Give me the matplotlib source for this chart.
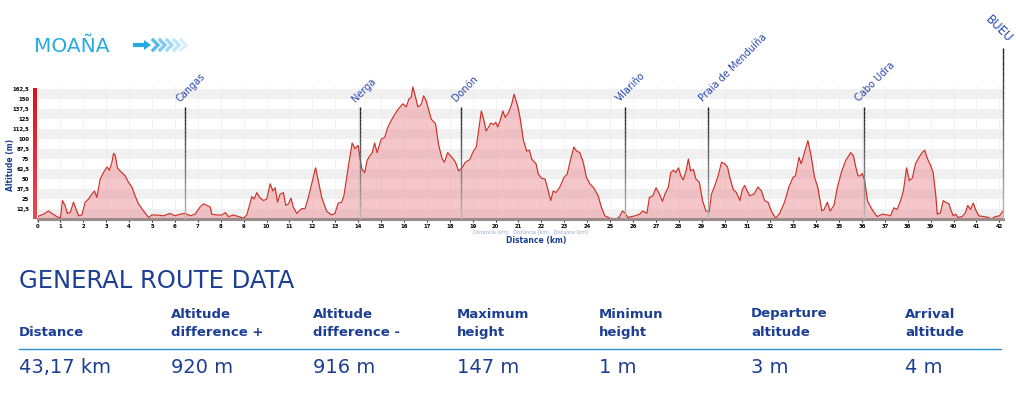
import numpy as np
import matplotlib.pyplot as plt
from matplotlib.collections import LineCollection

# ---------------------------------------------- data ----------------------------------------------
# elevation profile (km, m)
dist_km = [0.0, 0.26, 0.48, 0.63, 0.84, 1.0, 1.09, 1.2, 1.31, 1.43, 1.57, 1.69, 1.79, 1.94, 2.08, 2.23,
           2.37, 2.49, 2.59, 2.74, 2.88, 3.03, 3.14, 3.25, 3.32, 3.39, 3.49, 3.61, 3.83, 3.97, 4.12, 4.26,
           4.41, 4.63, 4.85, 4.99, 5.2, 5.5, 5.79, 6.0, 6.23, 6.45, 6.67, 6.88, 7.1, 7.25, 7.39, 7.54,
           7.61, 7.83, 8.05, 8.2, 8.34, 8.56, 8.78,
           9.0, 9.14, 9.36, 9.46, 9.58, 9.7, 9.87, 10.01, 10.16, 10.28, 10.38, 10.48, 10.59, 10.74, 10.84,
           10.96, 11.07, 11.17, 11.32, 11.54, 11.68, 11.83, 12.04, 12.14, 12.26, 12.41, 12.62, 12.84, 12.99,
           13.13, 13.28, 13.38, 13.57, 13.74, 13.86, 14.0, 14.1, 14.17, 14.29, 14.39, 14.51, 14.62, 14.72,
           14.83, 15.01, 15.16, 15.3, 15.52, 15.74, 15.96, 16.1, 16.22, 16.32, 16.39, 16.51, 16.61, 16.75,
           16.86, 16.97, 17.19,
           17.38, 17.52, 17.67, 17.77, 17.91, 18.1, 18.25, 18.39, 18.54, 18.68, 18.87, 19.04, 19.16, 19.26,
           19.38, 19.48, 19.59, 19.7, 19.8, 19.91, 20.01, 20.1, 20.2, 20.32, 20.42, 20.57, 20.71, 20.81,
           20.96, 21.07, 21.22, 21.36, 21.48, 21.58, 21.77, 21.87, 22.01, 22.16, 22.26, 22.41, 22.52, 22.64,
           22.81, 22.99, 23.13, 23.25, 23.42, 23.54, 23.68, 23.83, 23.97, 24.12, 24.29, 24.48, 24.62, 24.77,
           24.99, 25.28, 25.42, 25.54, 25.64, 25.78,
           26.1, 26.29, 26.43, 26.61, 26.72, 26.87, 27.01, 27.16, 27.29, 27.41, 27.55, 27.65, 27.77, 27.87,
           27.99, 28.09, 28.2, 28.32, 28.42, 28.52, 28.64, 28.75, 28.9, 29.04, 29.19, 29.33, 29.43, 29.58,
           29.72, 29.87, 30.01, 30.13, 30.23, 30.38, 30.52, 30.67, 30.78, 30.88, 30.99, 31.1, 31.28, 31.46,
           31.61, 31.75, 31.9, 32.04, 32.23, 32.41, 32.62, 32.81, 32.99, 33.1, 33.25, 33.35, 33.49, 33.64,
           33.78, 33.93, 34.07, 34.25,
           34.35, 34.49, 34.61, 34.78, 34.93, 35.1, 35.29, 35.51, 35.63, 35.73, 35.83, 35.94, 36.02, 36.12,
           36.24, 36.38, 36.53, 36.67, 36.89, 37.11, 37.25, 37.4, 37.54, 37.69, 37.81, 37.95, 38.07, 38.2,
           38.34, 38.49, 38.63, 38.74, 38.85, 39.0, 39.11, 39.22, 39.29, 39.43, 39.55, 39.65, 39.8, 39.9,
           39.99, 40.09, 40.19, 40.38, 40.52, 40.62, 40.74, 40.86, 40.96, 41.1, 41.32, 41.53, 41.64, 41.83,
           42.01, 42.16]
alt_m = [3, 6, 10, 7, 3, 1, 23, 17, 7, 8, 21, 12, 4, 5, 21, 25,
         31, 35, 27, 50, 58, 65, 61, 71, 82, 80, 64, 60, 54, 46, 40, 29,
         19, 10, 2, 5, 5, 4, 7, 4, 6, 7, 4, 6, 15, 19, 17, 15,
         6, 5, 5, 8, 3, 5, 3,
         1, 5, 28, 25, 33, 27, 23, 25, 44, 35, 39, 21, 31, 33, 17,
         19, 26, 15, 7, 13, 13, 27, 52, 64, 48, 27, 10, 5, 7,
         20, 21, 29, 65, 95, 88, 92, 73, 62, 58, 73, 79, 83, 95,
         83, 100, 102, 115, 127, 137, 144, 140, 150, 152, 165, 152, 140, 143,
         154, 148, 125,
         119, 92, 75, 71, 83, 77, 71, 60, 64, 71, 74, 85, 90, 110,
         135, 125, 110, 115, 120, 118, 121, 115, 123, 135, 127, 133, 144, 156,
         142, 127, 98, 85, 86, 75, 69, 56, 51, 50, 40, 23, 35, 33,
         40, 52, 56, 71, 90, 85, 83, 71, 52, 44, 39, 29, 15, 4,
         1, 0, 3, 10, 8, 2,
         4, 6, 10, 7, 27, 29, 39, 31, 22, 32, 40, 58, 61, 58,
         64, 54, 49, 60, 75, 60, 62, 50, 46, 23, 10, 9, 31, 42,
         54, 71, 69, 65, 52, 37, 33, 23, 37, 42, 35, 29, 31, 40,
         35, 23, 21, 10, 1, 7, 21, 40, 52, 54, 77, 69, 83, 98,
         79, 52, 40, 10,
         12, 21, 10, 17, 40, 58, 73, 83, 79, 65, 54, 54, 57, 48,
         23, 15, 8, 3, 6, 5, 4, 14, 12, 23, 35, 64, 48, 51,
         69, 77, 83, 86, 76, 67, 58, 31, 6, 8, 23, 21, 19, 10,
         4, 6, 2, 3, 8, 17, 12, 20, 12, 4, 3, 2, 0, 3,
         4, 10]

# waypoints along the route
wp_names = ['Cangas', 'Nerga', 'Donón', 'Vilariño', 'Praia de Menduíña', 'Cabo Udra', 'BUEU']
wp_km = [6.44, 14.08, 18.49, 25.65, 29.28, 36.09, 42.16]
wp_top = [140, 140, 140, 140, 140, 140, 214]

y_ticks = [12.5, 25, 37.5, 50, 62.5, 75, 87.5, 100, 112.5, 125, 137.5, 150, 162.5]
x_ticks = list(range(43))

# general route data table
headers = ['Distance', 'Altitude\ndifference +', 'Altitude\ndifference -', 'Maximum\nheight',
           'Minimun\nheight', 'Departure\naltitude', 'Arrival\naltitude']
values = ['43,17 km', '920 m', '916 m', '147 m', '1 m', '3 m', '4 m']

# ---------------------------------------------- figure ----------------------------------------------
W, H = 1016, 395
navy = '#1c3f94'
wp_blue = '#2848b0'

fig = plt.figure(figsize=(W / 100, H / 100), dpi=100)
fig.patch.set_facecolor('white')

# pixel overlay for the decorations and the table
ov = fig.add_axes([0, 0, 1, 1])
ov.set_xlim(0, W)
ov.set_ylim(H, 0)
ov.axis('off')

# profile axes
x0, x1, yb = 37.5, 1003, 219
ax = fig.add_axes([x0 / W, (H - yb) / H, (x1 - x0) / W, 132.8 / H])
ax.set_xlim(0, 42.16)
ax.set_ylim(0, 166)
ax.set_facecolor('none')
for s in ax.spines.values():
    s.set_visible(False)

for k in range(0, 13, 2):
    ax.axhspan(y_ticks[k] - 12.5, y_ticks[k], color='#f0f0f0', lw=0, zorder=0)
ax.vlines(x_ticks, 0, 166, color='#ececec', lw=0.5, zorder=0.5)

ax.fill_between(dist_km, alt_m, color='#ec9096', alpha=0.5, lw=0, zorder=1)
ax.plot(dist_km, alt_m, color='#cf3027', lw=0.85, zorder=3)
ax.axhline(0, color='#9a8a8a', lw=2.2, zorder=4, clip_on=False)

# waypoint markers (dark at the top fading to grey)
for name, km, top in zip(wp_names, wp_km, wp_top):
    ys = np.linspace(0, top, 30)
    segs = [[(km, ys[i]), (km, ys[i + 1])] for i in range(len(ys) - 1)]
    shades = np.linspace(0.72, 0.12, len(segs))
    lc = LineCollection(segs, colors=[(c, c, c) for c in shades], lw=1.0, zorder=5, clip_on=False)
    ax.add_collection(lc)
    if name == 'BUEU':
        ax.text(km + 0.1, top + 3, name, rotation=-45, rotation_mode='anchor', ha='right', va='bottom',
                fontsize=8.5, color=wp_blue, clip_on=False)
    else:
        ax.text(km - 0.15, top + 4, name, rotation=45, rotation_mode='anchor', ha='left', va='bottom',
                fontsize=7, color=wp_blue, clip_on=False)

ax.set_xticks(x_ticks)
ax.set_xticklabels([str(v) for v in x_ticks], fontsize=3.8, fontweight='bold')
ax.tick_params(axis='x', length=2, width=0.8, pad=1.5, color='#222222')
ax.set_yticks(y_ticks)
ax.set_yticklabels([('%g' % v).replace('.', ',') for v in y_ticks], fontsize=3.8, fontweight='bold')
ax.tick_params(axis='y', length=0, pad=6)

# red altitude bar on the left
bar = fig.add_axes([33 / W, (H - yb) / H, 4 / W, 131 / H])
grad = np.linspace(0, 1, 100).reshape(-1, 1)
bar.imshow(grad, aspect='auto', cmap=plt.matplotlib.colors.LinearSegmentedColormap.from_list(
    'r', ['#e0101c', '#e84a52']), origin='upper')
bar.axis('off')

ov.text(11, 165, 'Altitude (m)', rotation=90, ha='center', va='center', fontsize=5.5,
        fontweight='bold', color=navy)
ov.text(536, 241, 'Distance (km)', ha='center', va='center', fontsize=5.5, fontweight='bold', color=navy)
ov.text(530, 232, 'Distancia (km)   Distância (km)   Distance (km)', ha='center', va='center',
        fontsize=3.5, color='#9aa6c8')

# title with arrows
ov.text(34, 46, 'MOAÑA', ha='left', va='center', fontsize=14.5, color='#29abe2')
ov.plot([133, 145], [45, 45], color='#29abe2', lw=3, solid_capstyle='butt')
ov.fill([144, 151, 144], [40, 45, 50], color='#29abe2', lw=0)
for i, a in enumerate([0.8, 0.6, 0.45, 0.3, 0.18]):
    cx = 153 + i * 7
    ov.plot([cx, cx + 5, cx], [40, 45, 50], color='#29abe2', alpha=a, lw=2.4,
            solid_joinstyle='miter')

# general route data
ov.text(19, 281, 'GENERAL ROUTE DATA', ha='left', va='center', fontsize=17.5, color=navy)
col_x = [19, 171, 313, 457, 599, 751, 905]
for cx, hd, val in zip(col_x, headers, values):
    ov.text(cx, 339, hd, ha='left', va='bottom', fontsize=9.5, fontweight='bold', color=navy,
            linespacing=1.55)
    ov.text(cx, 373, val, ha='left', va='baseline', fontsize=14, color=navy)
ov.plot([19, 1001], [348.5, 348.5], color='#2a8fd0', lw=1)

fig.savefig('out.png', dpi=100)
